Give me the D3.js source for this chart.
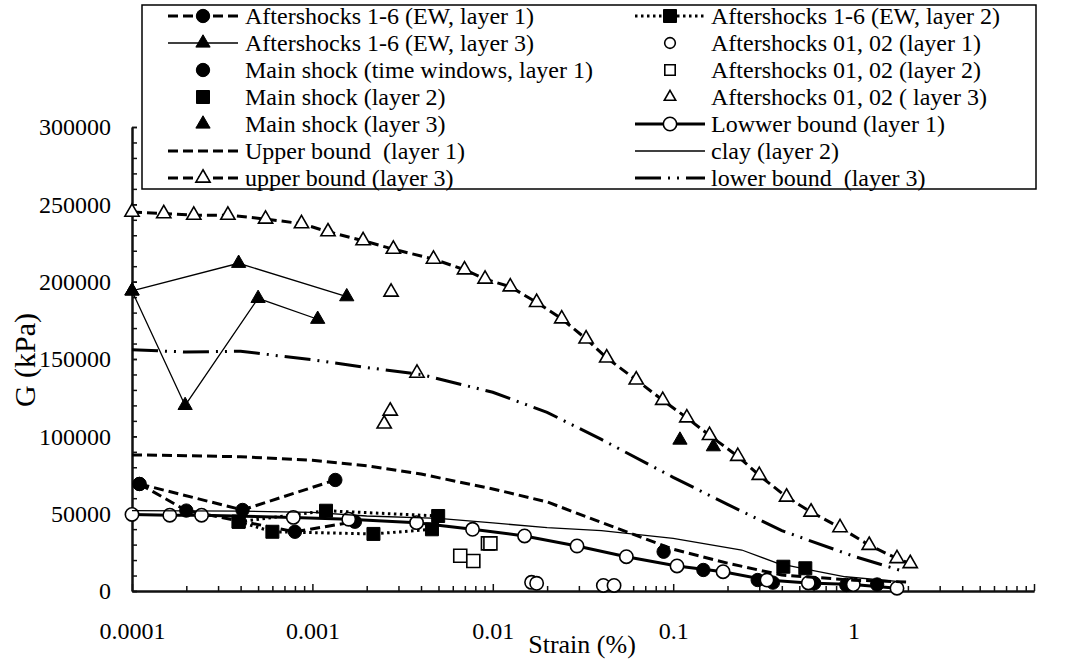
<!DOCTYPE html>
<html>
<head>
<meta charset="utf-8">
<script src="https://cdn.jsdelivr.net/npm/d3@7"></script>
<style>
  body { margin: 0; background: #fff; }
  svg text { font-family: "Liberation Serif", "Times New Roman", serif; fill: #000; white-space: pre; }
</style>
</head>
<body>
<svg id="chart" width="1067" height="660"></svg>
<script>
// Shear modulus G (kPa) against shear strain (%); null breaks a polyline.
const ewLayer1 = [[1.1e-4, 69200], [4.1e-4, 52400], [1.34e-3, 71800], null,
                  [1.1e-4, 69200], [2.0e-4, 52000], [8.0e-4, 38300], [1.72e-3, 44800]];
const ewLayer2 = [[3.9e-4, 44800], [1.19e-3, 51900], [4.98e-3, 48500], null,
                  [3.9e-4, 44800], [6.0e-4, 38300], [2.18e-3, 36900], [4.6e-3, 39900]];
const ewLayer3 = [[1e-4, 194000], [3.9e-4, 211900], [1.55e-3, 190300], null,
                  [1e-4, 194000], [1.97e-4, 120000], [5.0e-4, 189200], [1.07e-3, 175700]];
const as0102Layer1 = [[1.64e-2, 5600], [1.75e-2, 5000], [4.1e-2, 3600], [4.7e-2, 3600]];
const mainShockLayer1 = [[0.0885, 25400], [0.147, 13600], [0.294, 7100], [0.357, 5400],
                         [0.605, 5000], [0.911, 3900], [1.35, 4200]];
const as0102Layer2 = [[6.6e-3, 22800], [7.8e-3, 19400], [9.4e-3, 30800], [9.7e-3, 30800]];
const mainShockLayer2 = [[0.408, 15700], [0.54, 14700]];
const as0102Layer3 = [[2.73e-3, 193300], [3.8e-3, 140900], [2.7e-3, 116400], [2.5e-3, 108000]];
const mainShockLayer3 = [[0.109, 97600], [0.167, 93300]];
const lowerBoundLayer1 = [[1e-4, 49500], [1.62e-4, 49000], [2.43e-4, 49000], [7.84e-4, 47600],
                          [1.59e-3, 46400], [3.78e-3, 44200], [7.72e-3, 39900], [1.5e-2, 35600],
                          [2.93e-2, 29100], [5.5e-2, 22200], [0.105, 16200], [0.189, 12500],
                          [0.331, 7100], [0.561, 5200], [0.996, 4200], [1.74, 1800]];
const upperBoundLayer1 = [[1e-4, 88000], [2e-4, 87500], [4e-4, 86800], [1e-3, 84500], [2e-3, 81000],
                          [4e-3, 75600], [1e-2, 66000], [2e-2, 57600], [4e-2, 44300], [0.1, 27000],
                          [0.2, 18000], [0.4, 10300], [1, 7000], [2, 5800]];
const clayLayer2 = [[1e-4, 52000], [4e-4, 51600], [1e-3, 50800], [2e-3, 48500], [5e-3, 47000],
                    [1e-2, 44000], [2e-2, 41000], [4e-2, 39000], [0.1, 34000], [0.24, 26500],
                    [0.38, 17900], [0.57, 13600], [0.9, 9200], [1.8, 6000]];
const upperBoundLayer3 = [[1e-4, 245000], [1.5e-4, 244000], [2.2e-4, 243000], [3.4e-4, 243000],
                          [5.5e-4, 240500], [8.7e-4, 237500], [1.22e-3, 232300], [1.91e-3, 226500],
                          [2.81e-3, 221000], [4.69e-3, 214600], [6.97e-3, 207700], [9.06e-3, 201700],
                          [1.25e-2, 196700], [1.75e-2, 186600], [2.41e-2, 176000], [3.29e-2, 163000],
                          [4.28e-2, 150700], [6.24e-2, 136500], [8.75e-2, 123300], [0.119, 112000],
                          [0.159, 100600], [0.228, 87100], [0.300, 74800], [0.425, 60800],
                          [0.581, 51100], [0.841, 41000], [1.22, 29600], [1.74, 21000], [2.06, 17800]];
const lowerBoundLayer3 = [[1e-4, 156000], [2e-4, 154500], [4e-4, 155000], [1e-3, 149500], [2e-3, 144500],
                          [4e-3, 140000], [1e-2, 128500], [2e-2, 115500], [4e-2, 98000], [0.1, 73500],
                          [0.2, 56000], [0.4, 39000], [1, 22500], [1.8, 13500]];

const xTickValues = [1e-4, 1e-3, 1e-2, 1e-1, 1, 10];
const xTickLabels = ["0.0001", "0.001", "0.01", "0.1", "1", ""];
const yTickValues = [0, 50000, 100000, 150000, 200000, 250000, 300000];

const seriesNames = [
  "Aftershocks 1-6 (EW, layer 1)", "Aftershocks 1-6 (EW, layer 2)",
  "Aftershocks 1-6 (EW, layer 3)", "Aftershocks 01, 02 (layer 1)",
  "Main shock (time windows, layer 1)", "Aftershocks 01, 02 (layer 2)",
  "Main shock (layer 2)", "Aftershocks 01, 02 ( layer 3)",
  "Main shock (layer 3)", "Lowwer bound (layer 1)",
  "Upper bound  (layer 1)", "clay (layer 2)",
  "upper bound (layer 3)", "lower bound  (layer 3)"
];
const seriesData = [ewLayer1, ewLayer2, ewLayer3, as0102Layer1, mainShockLayer1, as0102Layer2,
                    mainShockLayer2, as0102Layer3, mainShockLayer3, lowerBoundLayer1,
                    upperBoundLayer1, clayLayer2, upperBoundLayer3, lowerBoundLayer3];

// line: null = markers only; marker: null = line only
const LINE = {
  dash:   { width: 3,   dash: "10,5" },
  dot:    { width: 3,   dash: "2.5,3.5" },
  thin:   { width: 1.3, dash: null },
  thick:  { width: 3,   dash: null },
  dashDotDot: { width: 3, dash: "26,7,2,7,2,7" }
};
const seriesStyle = [
  { line: LINE.dash,  marker: "circle",   fill: true },
  { line: LINE.dot,   marker: "square",   fill: true },
  { line: LINE.thin,  marker: "triangle", fill: true },
  { line: null,       marker: "circle",   fill: false },
  { line: null,       marker: "circle",   fill: true },
  { line: null,       marker: "square",   fill: false },
  { line: null,       marker: "square",   fill: true },
  { line: null,       marker: "triangle", fill: false },
  { line: null,       marker: "triangle", fill: true },
  { line: LINE.thick, marker: "circle",   fill: false },
  { line: LINE.dash,  marker: null },
  { line: LINE.thin,  marker: null },
  { line: LINE.dash,  marker: "triangle", fill: false },
  { line: LINE.dashDotDot, marker: null }
];

const svg = d3.select("#chart");
const x = d3.scaleLog().domain([1e-4, 10]).range([132, 1034]);
const y = d3.scaleLinear().domain([0, 300000]).range([591, 127]);

// ---- axes ----
const xMinor = [];
xTickValues.slice(0, -1).forEach(d => { for (let k = 2; k <= 9; k++) xMinor.push(d * k); });

const gxMinor = svg.append("g").attr("transform", `translate(0,${y(0)})`)
  .call(d3.axisBottom(x).tickValues(xMinor).tickSize(-5).tickSizeOuter(0).tickFormat(""));
const gx = svg.append("g").attr("transform", `translate(0,${y(0)})`)
  .call(d3.axisBottom(x).tickValues(xTickValues).tickSize(-7).tickSizeOuter(0)
    .tickPadding(31).tickFormat((d, i) => xTickLabels[i]));

const gyMinor = svg.append("g").attr("transform", `translate(${x(1e-4)},0)`)
  .call(d3.axisLeft(y).tickValues(d3.range(0, 300001, 10000)).tickSize(-5).tickSizeOuter(0).tickFormat(""));
const gy = svg.append("g").attr("transform", `translate(${x(1e-4)},0)`)
  .call(d3.axisLeft(y).tickValues(yTickValues).tickSize(-5).tickSizeOuter(0)
    .tickPadding(21).tickFormat(d => String(d)));

[gxMinor, gx, gyMinor, gy].forEach(g => {
  g.select(".domain").attr("stroke", "#111").attr("stroke-width", 2);
  g.selectAll(".tick line").attr("stroke", "#111").attr("stroke-width", 1.5);
  g.selectAll("text").attr("font-size", 24).attr("font-family", null).attr("fill", "#000");
});

svg.append("text").attr("x", 582).attr("y", 653).attr("text-anchor", "middle")
  .attr("font-size", 26).text("Strain (%)");
svg.append("text").attr("transform", "translate(35,360) rotate(-90)").attr("text-anchor", "middle")
  .attr("font-size", 30).text("G (kPa)");

// ---- series ----
const symbolType = { circle: d3.symbolCircle, square: d3.symbolSquare, triangle: d3.symbolTriangle };
const symbolSize = { circle: 140, square: 169, triangle: 88 };

function addMarker(g, cx, cy, st, scale = 1) {
  g.append("path")
    .attr("transform", `translate(${cx},${cy})`)
    .attr("d", d3.symbol(symbolType[st.marker], symbolSize[st.marker] * scale * scale)())
    .attr("fill", st.fill ? "#000" : "#fff")
    .attr("stroke", "#000")
    .attr("stroke-width", st.fill ? 1 : 1.6);
}

const plot = svg.append("g");
const lineGen = d3.line().defined(d => d !== null).x(d => x(d[0])).y(d => y(d[1]));

seriesData.forEach((data, i) => {
  const st = seriesStyle[i];
  const g = plot.append("g");
  if (st.line) {
    g.append("path").datum(data).attr("d", lineGen)
      .attr("fill", "none").attr("stroke", "#000")
      .attr("stroke-width", st.line.width)
      .attr("stroke-dasharray", st.line.dash);
  }
  if (st.marker) {
    data.filter(d => d !== null).forEach(d => addMarker(g, x(d[0]), y(d[1]), st));
  }
});

// ---- legend ----
const legend = svg.append("g");
legend.append("rect").attr("x", 142).attr("y", 5).attr("width", 894).attr("height", 184)
  .attr("fill", "#fff").attr("stroke", "#000").attr("stroke-width", 1.5);

const cols = [{ x1: 168, x2: 238, mx: 203, tx: 245 }, { x1: 635, x2: 705, mx: 670, tx: 711 }];
seriesNames.forEach((name, i) => {
  const c = cols[i % 2];
  const ry = 16 + 27 * Math.floor(i / 2);
  const st = seriesStyle[i];
  if (st.line) {
    legend.append("line").attr("x1", c.x1).attr("x2", c.x2).attr("y1", ry).attr("y2", ry)
      .attr("stroke", "#000").attr("stroke-width", st.line.width)
      .attr("stroke-dasharray", st.line.dash);
  }
  if (st.marker) addMarker(legend, c.mx, ry, st, st.line ? 1 : (st.fill ? 1 : 0.8));
  legend.append("text").attr("x", c.tx).attr("y", ry + 8).attr("font-size", 24).text(name);
});
</script>
</body>
</html>
